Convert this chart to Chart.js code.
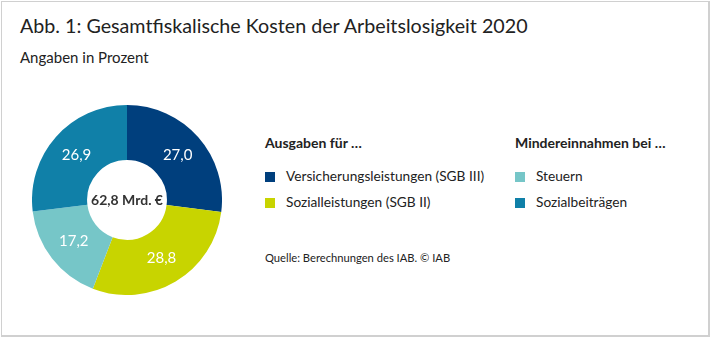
<!DOCTYPE html>
<html lang="de">
<head>
<meta charset="utf-8">
<script src="https://cdn.jsdelivr.net/npm/chart.js@4"></script>
<style>
  html, body { margin: 0; padding: 0; background: #fff; }
  body { width: 711px; height: 338px; position: relative; font-family: Lato, "Noto Sans", sans-serif; color: #222; }
  .frame { position: absolute; left: 1px; top: 1px; width: 706px; height: 333px; border: 1px solid #d0d0d0; border-right-width: 2px; border-bottom-width: 2px; }
  .title { position: absolute; left: 20px; top: 14px; font-size: 19.7px; white-space: nowrap; }
  .sub { position: absolute; left: 20px; top: 48px; font-size: 15px; white-space: nowrap; }
  .donut { position: absolute; left: 32px; top: 105px; width: 190px; height: 190px; }
  .lg { position: absolute; font-size: 14px; white-space: nowrap; }
  .lg h4 { margin: 0 0 17px 0; font-size: 14px; font-weight: bold; }
  .lg div { height: 26px; line-height: 16px; font-size: 13.7px; }
  .lg span.sw { display: inline-block; width: 10px; height: 10px; margin-right: 11px; vertical-align: -1px; }
  .src { position: absolute; left: 265px; top: 251px; font-size: 11.2px; white-space: nowrap; }
</style>
</head>
<body>
<div class="frame"></div>
<div class="title">Abb. 1: Gesamtfiskalische Kosten der Arbeitslosigkeit 2020</div>
<div class="sub">Angaben in Prozent</div>
<div class="donut"><canvas id="c"></canvas></div>
<div class="lg" id="lg1" style="left:265px; top:134px;"></div>
<div class="lg" id="lg2" style="left:515px; top:134px;"></div>
<div class="src">Quelle: Berechnungen des IAB. © IAB</div>
<script>
// Anteile in Prozent, im Uhrzeigersinn ab 12 Uhr
const labels = ["Versicherungsleistungen (SGB III)", "Sozialleistungen (SGB II)", "Steuern", "Sozialbeiträgen"];
const values = [27.0, 28.8, 17.2, 26.9];
const colors = ["#003f7d", "#c8d400", "#76c6c8", "#1080a8"];
const centerText = "62,8 Mrd. €";

const groups = [
  { id: "lg1", head: "Ausgaben für …", idx: [0, 1] },
  { id: "lg2", head: "Mindereinnahmen bei …", idx: [2, 3] }
];
groups.forEach(g => {
  let html = "<h4>" + g.head + "</h4>";
  g.idx.forEach(i => {
    html += '<div><span class="sw" style="background:' + colors[i] + '"></span>' + labels[i] + "</div>";
  });
  document.getElementById(g.id).innerHTML = html;
});

// Zahlen in die Segmente und Summe in die Mitte
const sliceLabels = {
  id: "sliceLabels",
  afterDatasetsDraw(chart) {
    const ctx = chart.ctx;
    const meta = chart.getDatasetMeta(0);
    ctx.save();
    ctx.textAlign = "center";
    ctx.textBaseline = "middle";
    ctx.fillStyle = "#fff";
    ctx.font = "15px Lato, sans-serif";
    meta.data.forEach((arc, i) => {
      const p = arc.tooltipPosition();
      ctx.fillText(values[i].toFixed(1).replace(".", ","), p.x, p.y);
    });
    const a = meta.data[0];
    ctx.fillStyle = "#333";
    ctx.font = "bold 14px Lato, sans-serif";
    ctx.fillText(centerText, a.x, a.y);
    ctx.restore();
  }
};

new Chart(document.getElementById("c"), {
  type: "doughnut",
  data: {
    labels: labels,
    datasets: [{ data: values, backgroundColor: colors, borderWidth: 0 }]
  },
  options: {
    responsive: true,
    maintainAspectRatio: false,
    animation: false,
    cutout: "42%",
    plugins: { legend: { display: false }, tooltip: { enabled: false } }
  },
  plugins: [sliceLabels]
});
</script>
</body>
</html>
